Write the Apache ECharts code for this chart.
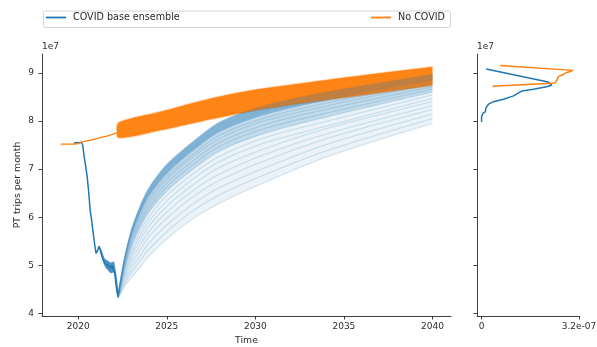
<!DOCTYPE html>
<html>
<head>
<meta charset="utf-8">
<script src="https://cdn.jsdelivr.net/npm/echarts@6/dist/echarts.min.js"></script>
<style>
  html, body { margin: 0; padding: 0; background: #fff; }
  #chart { width: 597px; height: 347px; }
</style>
</head>
<body>
<div id="chart"></div>
<script>
// Public transport trips per month, in units of 1e7.

// Observed / counterfactual path before the scenario ensembles start
const noCovidHistYears = [2019.0, 2019.25, 2019.5, 2019.75, 2020.0, 2020.17, 2020.42, 2020.67, 2020.92, 2021.17, 2021.42, 2021.67, 2021.92, 2022.08, 2022.17];
const noCovidHist      = [7.52, 7.52, 7.52, 7.52, 7.53, 7.56, 7.58, 7.60, 7.62, 7.65, 7.67, 7.69, 7.72, 7.74, 7.76];

const covidHistYears = [2019.75, 2020.0, 2020.17, 2020.25, 2020.33, 2020.42, 2020.5, 2020.58, 2020.67, 2020.75, 2020.83, 2020.92, 2021.0, 2021.08, 2021.17, 2021.25, 2021.33, 2021.42, 2021.5, 2021.58, 2021.67, 2021.75, 2021.83, 2021.92, 2022.0, 2022.08, 2022.17, 2022.25];
const covidHist      = [7.54, 7.55, 7.56, 7.50, 7.26, 7.05, 6.85, 6.55, 6.15, 5.95, 5.70, 5.45, 5.25, 5.30, 5.40, 5.32, 5.20, 5.10, 5.05, 5.02, 5.00, 4.98, 4.95, 5.00, 4.98, 4.80, 4.55, 4.35];

// Spread of the ensemble during the second wave dip
const dipYears = [2021.17, 2021.33, 2021.5, 2021.67, 2021.83, 2022.0, 2022.08, 2022.17, 2022.25];
const dipUpper = [5.42, 5.30, 5.14, 5.10, 5.06, 5.08, 4.96, 4.75, 4.48];
const dipLower = [5.36, 5.16, 4.98, 4.90, 4.84, 4.86, 4.62, 4.40, 4.30];

// Recovery ensemble members (COVID base), fastest to slowest
const recoveryYears = [2022.25, 2022.6, 2023, 2023.5, 2024, 2025, 2026.5, 2028, 2030.5, 2034, 2040];
const recoveryMembers = [
  [4.40, 5.15, 5.75, 6.25, 6.62, 7.10, 7.58, 7.98, 8.32, 8.60, 8.97],
  [4.40, 5.13, 5.72, 6.21, 6.58, 7.05, 7.53, 7.93, 8.27, 8.56, 8.94],
  [4.40, 5.11, 5.69, 6.17, 6.53, 7.01, 7.48, 7.88, 8.22, 8.51, 8.91],
  [4.39, 5.10, 5.66, 6.13, 6.49, 6.96, 7.44, 7.83, 8.18, 8.47, 8.88],
  [4.39, 5.08, 5.63, 6.10, 6.45, 6.91, 7.39, 7.78, 8.13, 8.43, 8.85],
  [4.39, 5.05, 5.59, 6.05, 6.39, 6.85, 7.32, 7.71, 8.06, 8.37, 8.81],
  [4.38, 5.03, 5.55, 5.99, 6.34, 6.79, 7.26, 7.64, 8.00, 8.31, 8.77],
  [4.38, 5.00, 5.50, 5.93, 6.26, 6.71, 7.18, 7.56, 7.92, 8.24, 8.71],
  [4.38, 4.97, 5.45, 5.87, 6.19, 6.63, 7.10, 7.48, 7.84, 8.16, 8.66],
  [4.37, 4.93, 5.39, 5.79, 6.11, 6.54, 7.00, 7.38, 7.74, 8.08, 8.60],
  [4.37, 4.90, 5.33, 5.71, 6.02, 6.45, 6.91, 7.27, 7.65, 7.99, 8.54],
  [4.36, 4.86, 5.26, 5.62, 5.92, 6.34, 6.80, 7.16, 7.54, 7.89, 8.47],
  [4.36, 4.81, 5.19, 5.53, 5.82, 6.23, 6.68, 7.04, 7.42, 7.84, 8.40],
  [4.35, 4.77, 5.11, 5.43, 5.71, 6.11, 6.56, 6.90, 7.30, 7.73, 8.32],
  [4.34, 4.72, 5.03, 5.33, 5.60, 5.98, 6.43, 6.77, 7.17, 7.63, 8.24],
  [4.34, 4.66, 4.94, 5.21, 5.47, 5.84, 6.28, 6.62, 7.02, 7.51, 8.14],
  [4.33, 4.61, 4.85, 5.10, 5.34, 5.70, 6.14, 6.47, 6.88, 7.38, 8.05],
  [4.32, 4.55, 4.75, 4.97, 5.20, 5.55, 5.98, 6.30, 6.72, 7.25, 7.95]
];

// No COVID ensemble envelope
const noCovidYears = [2022.17, 2022.3, 2024.66, 2027, 2029.6, 2032.5, 2034.7, 2037.5, 2040];
const noCovidUpper = [7.82, 7.97, 8.19, 8.42, 8.62, 8.77, 8.88, 9.01, 9.12];
const noCovidLower = [7.70, 7.65, 7.81, 8.00, 8.19, 8.36, 8.47, 8.61, 8.74];

// Density of 2040 trips (density in units of 1e-7, trips in 1e7)
const densCovidLevel = [7.98, 8.09, 8.16, 8.19, 8.28, 8.35, 8.40, 8.45, 8.52, 8.62, 8.66, 8.71, 8.74, 8.78, 8.81, 9.08];
const densCovid      = [0.00, 0.00, 0.05, 0.12, 0.15, 0.23, 0.39, 0.72, 1.05, 1.32, 1.70, 2.14, 2.30, 2.34, 2.19, 0.15];
const densNoCovidLevel = [8.72, 8.79, 8.84, 8.92, 8.97, 9.00, 9.02, 9.05, 9.07, 9.15];
const densNoCovid      = [0.36, 2.41, 2.47, 2.52, 2.69, 2.77, 2.88, 3.01, 3.05, 0.61];

// Axis ticks
const yTicks = [4, 5, 6, 7, 8, 9];
const xTicks = [2020, 2025, 2030, 2035, 2040];
const densTicks = [0, 3.2];

const BLUE = '#1f77b4';
const ORANGE = '#ff7f0e';
const TXT = '#2b2b2b';
const FONT = 'DejaVu Sans';
const SMOOTH = 0.3;

const pairs = (xs, ys) => xs.map((x, i) => [x, ys[i]]);

// A filled band between two curves: the level goes in the first data
// dimension so that the stack is applied to y rather than to x.
let bandId = 0;
function band(xs, lower, upper, color, opacity, z) {
  const id = 'band' + (bandId++);
  const common = { type: 'line', xAxisIndex: 0, yAxisIndex: 0, stack: id, symbol: 'none',
    encode: { x: 1, y: 0 }, smooth: SMOOTH, silent: true, z: z,
    lineStyle: { width: 0, opacity: 0 } };
  return [
    Object.assign({}, common, { data: xs.map((x, i) => [lower[i], x]) }),
    Object.assign({}, common, { data: xs.map((x, i) => [upper[i] - lower[i], x]),
      areaStyle: { color: color, opacity: opacity } })
  ];
}

const series = [];

// No COVID ensemble underneath
series.push(...band(noCovidYears, noCovidLower, noCovidUpper, ORANGE, 0.93, 2));
[noCovidUpper, noCovidLower].forEach(edge => series.push({
  type: 'line', xAxisIndex: 0, yAxisIndex: 0, data: pairs(noCovidYears, edge), symbol: 'none',
  smooth: SMOOTH, silent: true, z: 2,
  lineStyle: { color: ORANGE, width: 2, opacity: 0.35 }
}));

// COVID recovery fan: overlapping bands give the density, thin members give the streaks
const last = recoveryMembers.length - 1;
series.push(...band(recoveryYears, recoveryMembers[last], recoveryMembers[0], BLUE, 0.09, 3));
series.push(...band(recoveryYears, recoveryMembers[9], recoveryMembers[0], BLUE, 0.2, 3));
series.push(...band(recoveryYears, recoveryMembers[4], recoveryMembers[0], BLUE, 0.32, 3));
recoveryMembers.forEach(m => series.push({
  type: 'line', xAxisIndex: 0, yAxisIndex: 0, data: pairs(recoveryYears, m), symbol: 'none',
  smooth: SMOOTH, silent: true, z: 4,
  lineStyle: { color: BLUE, width: 1.3, opacity: 0.16 }
}));
series.push(...band(dipYears, dipLower, dipUpper, BLUE, 0.8, 4));

// No COVID ensemble partly over the fastest COVID members
series.push(...band(noCovidYears, noCovidLower, noCovidUpper, ORANGE, 0.5, 5));

// Paths before the ensembles fan out
series.push({
  name: 'COVID base ensemble', type: 'line', xAxisIndex: 0, yAxisIndex: 0,
  data: pairs(covidHistYears, covidHist), symbol: 'none', z: 6,
  lineStyle: { color: BLUE, width: 1.5 }, itemStyle: { color: BLUE }
});
series.push({
  name: 'No COVID', type: 'line', xAxisIndex: 0, yAxisIndex: 0,
  data: pairs(noCovidHistYears, noCovidHist), symbol: 'none', z: 7,
  lineStyle: { color: ORANGE, width: 1.3 }, itemStyle: { color: ORANGE }
});

// Side panel densities
series.push({
  type: 'line', xAxisIndex: 1, yAxisIndex: 1, data: densCovid.map((d, i) => [d, densCovidLevel[i]]),
  symbol: 'none', silent: true, lineStyle: { color: BLUE, width: 1.5 }
});
series.push({
  type: 'line', xAxisIndex: 1, yAxisIndex: 1, data: densNoCovid.map((d, i) => [d, densNoCovidLevel[i]]),
  symbol: 'none', silent: true, lineStyle: { color: ORANGE, width: 1.5 }
});

const axisLineStyle = { color: TXT, width: 0.9 };
const labelStyle = { color: TXT, fontSize: 9, fontFamily: FONT };

const yAxisBase = {
  type: 'value', min: 3.95, max: 9.39,
  axisLine: { show: true, onZero: false, lineStyle: axisLineStyle },
  axisTick: { show: true, length: 3.5, lineStyle: axisLineStyle, customValues: yTicks },
  splitLine: { show: false },
  name: '1e7', nameLocation: 'end', nameGap: 3,
  nameTextStyle: { color: TXT, fontSize: 9, fontFamily: FONT, align: 'left', verticalAlign: 'bottom' }
};

const chart = echarts.init(document.getElementById('chart'), null, { renderer: 'canvas' });
chart.setOption({
  animation: false,
  backgroundColor: '#fff',
  grid: [
    { left: 42, right: 146, top: 54, bottom: 31, outerBoundsMode: 'none' },
    { left: 477, right: 18, top: 54, bottom: 31, outerBoundsMode: 'none' }
  ],
  graphic: [{
    type: 'rect', left: 43, top: 10.5, z: -1,
    shape: { width: 407, height: 16.5, r: 2 },
    style: { fill: '#fff', stroke: '#d4d4d4', lineWidth: 1 }
  }, {
    type: 'text', x: 18, y: 185, rotation: Math.PI / 2, z: 10,
    style: { text: 'PT trips per month', fill: TXT, font: '9.3px "DejaVu Sans"',
      align: 'center', verticalAlign: 'middle' }
  }],
  legend: [
    { data: ['COVID base ensemble'], left: 46, top: 12.5, padding: 0, icon: 'rect',
      itemWidth: 20, itemHeight: 1.8, itemGap: 0,
      textStyle: { color: TXT, fontSize: 9.6, fontFamily: FONT, padding: [0, 0, 0, 2] } },
    { data: ['No COVID'], right: 152, top: 12.5, padding: 0, icon: 'rect',
      itemWidth: 20, itemHeight: 1.8, itemGap: 0,
      textStyle: { color: TXT, fontSize: 9.6, fontFamily: FONT, padding: [0, 0, 0, 2] } }
  ],
  xAxis: [
    { gridIndex: 0, type: 'value', min: 2017.95, max: 2041.05,
      axisLine: { show: true, onZero: false, lineStyle: axisLineStyle },
      axisTick: { show: true, length: 3.5, lineStyle: axisLineStyle, customValues: xTicks },
      axisLabel: Object.assign({ customValues: xTicks, margin: 6, formatter: v => String(v) }, labelStyle),
      splitLine: { show: false },
      name: 'Time', nameLocation: 'middle', nameGap: 18,
      nameTextStyle: { color: TXT, fontSize: 9.3, fontFamily: FONT } },
    { gridIndex: 1, type: 'value', min: -0.15, max: 3.2,
      axisLine: { show: true, onZero: false, lineStyle: axisLineStyle },
      axisTick: { show: true, length: 3.5, lineStyle: axisLineStyle, customValues: densTicks },
      axisLabel: Object.assign({ customValues: densTicks, margin: 6,
        formatter: v => v === 0 ? '0' : v.toFixed(1) + 'e-07' }, labelStyle),
      splitLine: { show: false } }
  ],
  yAxis: [
    Object.assign({}, yAxisBase, { gridIndex: 0,
      axisLabel: Object.assign({ customValues: yTicks, margin: 8 }, labelStyle) }),
    Object.assign({}, yAxisBase, { gridIndex: 1, axisLabel: { show: false } })
  ],
  series: series
});
</script>
</body>
</html>
